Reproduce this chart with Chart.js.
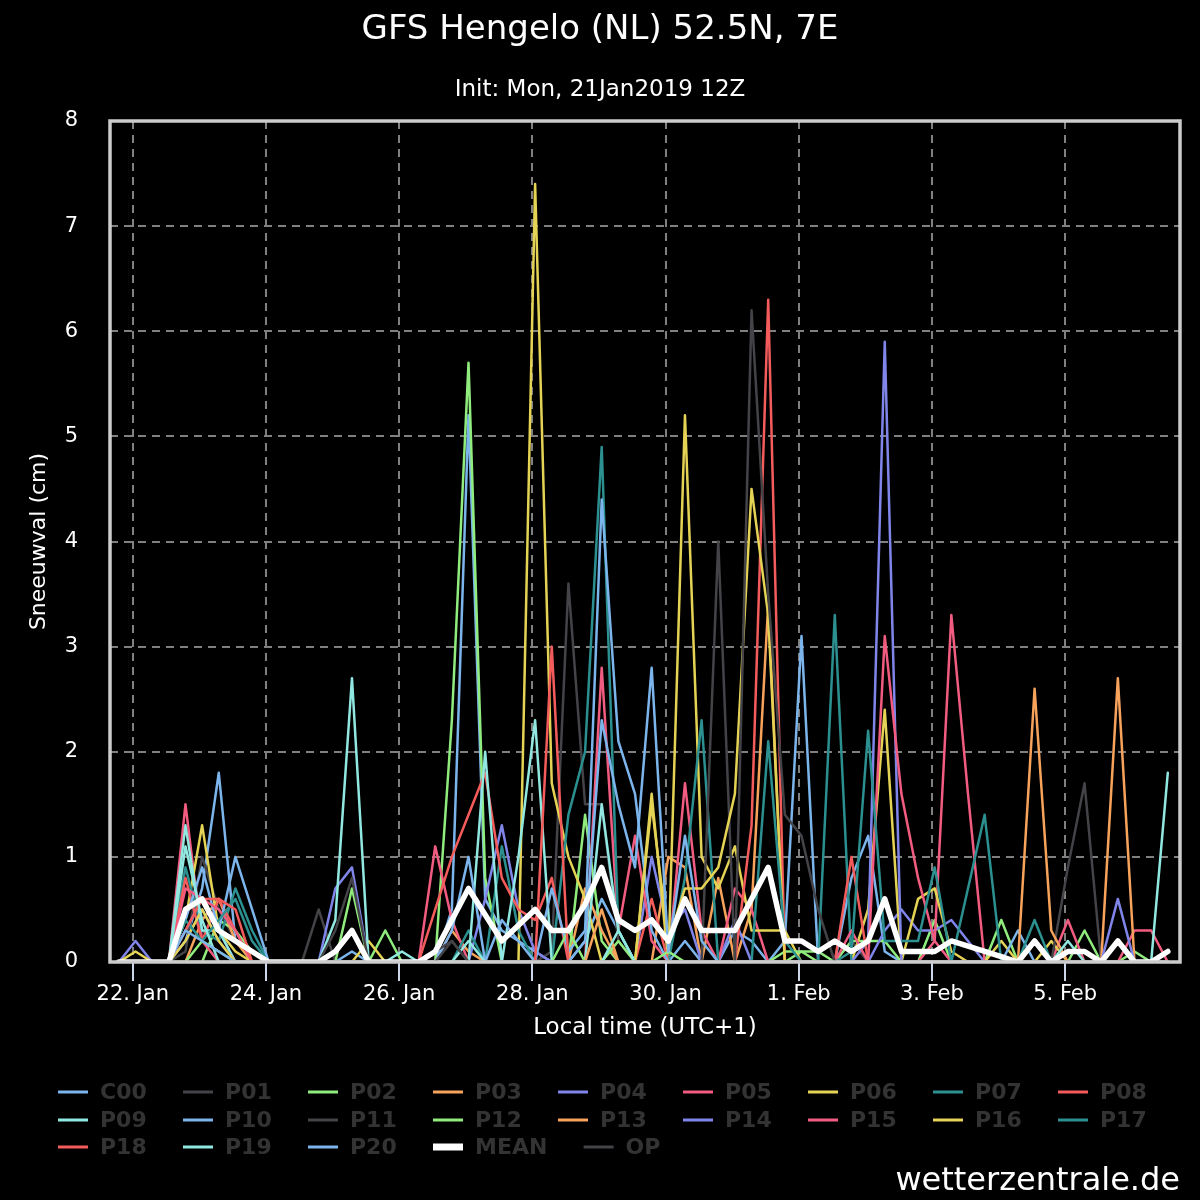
<!DOCTYPE html>
<html>
<head>
<meta charset="utf-8">
<title>GFS Hengelo (NL) 52.5N, 7E</title>
<script src="https://cdn.jsdelivr.net/npm/chart.js@4.4.1/dist/chart.umd.min.js"></script>
<style>
  html, body { margin: 0; padding: 0; background: #000; }
  canvas { display: block; }
</style>
</head>
<body>
<canvas id="chart" width="1200" height="1200"></canvas>
<script>
// 6-hourly steps, +6h .. +384h from 21 Jan 2019 12Z, as local hours after 22 Jan 00:00 (UTC+1)
let leadHours = [];
for (let i = 0; i < 64; i++) leadHours.push(-5 + 6 * i);

const tickHours = [0, 48, 96, 144, 192, 240, 288, 336];
const tickLabels = ["22. Jan", "24. Jan", "26. Jan", "28. Jan", "30. Jan", "1. Feb", "3. Feb", "5. Feb"];

// snowfall (cm) per member
const C00 = [0,0,0,0,0.2,0.7,1.8,0.2, 0.1,0,0,0,0,0,0.1,0, 0,0,0,0,0.5,5.2,0.6,0.3, 0.2,0.1,0,0,0.2,0.6,0.3,0,
             0,0,0.2,0,0,0.3,0.2,0, 0.2,3.1,0,0,0.8,1.2,0.1,0, 0,0,0,0,0,0,0,0, 0,0,0,0,0,0,0,0];
const P01 = [0,0,0,0,0.1,1.0,0.5,0.2, 0,0,0,0,0.5,0,0,0, 0,0,0,0,0,0,0,0, 0,0,0.1,3.6,1.5,1.5,0.2,0,
             0,0,0,0,0,0,0,0, 0,0,0,0,0.2,0,0,0, 0,0,0,0,0,0,0,0, 0,0,0,0,0,0,0,0];
const P02 = [0,0,0,0,0,0,0.4,0.3, 0.1,0,0,0,0,0,0.7,0, 0.3,0,0,0,2.3,5.7,0.8,0, 0,0,0,0,1.4,0.2,0,0,
             0,0,0,0,0,0,0,0, 0,0.1,0.1,0,0.2,0.2,0.2,0, 0,0.4,0,0,0,0.4,0,0, 0,0,0.3,0,0,0.1,0,0];
const P03 = [0,0,0,0,0,0.4,0.6,0.2, 0,0,0,0,0,0,0,0, 0,0,0,0,0.3,0.1,0,0, 0,0,0,0,0.7,0.3,0,0,
             0,1.0,0.9,0,0.8,0,0.5,3.4, 0,0,0,0,0,0,0,0, 0,0,0,0,0,0,0,0, 0,0,0,0,0,0,0,0];
const P04 = [0,0.2,0,0,0.3,0.6,0.3,0, 0,0,0,0,0,0.7,0.9,0, 0,0,0,0,0,0,0.6,1.3, 0.5,0.1,0,0,0,0,0,0,
             1.0,0.3,0.5,0,0,0.4,0,0, 0,0,0,0,0,0,0.3,0.5, 0.3,0.3,0.4,0.2,0,0,0,0, 0,0,0,0,0,0,0,0];
const P05 = [0,0,0,0,1.5,0.2,0,0, 0,0,0,0,0,0,0,0, 0,0,0,1.1,0.4,0,0,0, 0,0,0,0,0,2.8,0.3,1.2,
             0.2,0,1.7,0.3,0,0.7,0.5,0, 0,0,0,0,0,0,0,0, 0,0.2,3.3,1.6,0,0,0,0, 0,0.4,0,0,0,0.3,0.3,0];
const P06 = [0,0.1,0,0,0.4,1.3,0.3,0.1, 0,0,0,0,0,0,0,0.2, 0,0,0,0,0,0,0,0, 0,7.4,1.7,1.0,0.6,0,0,0,
             1.6,0,5.2,1.0,0.7,1.1,0.3,0.3, 0.3,0,0,0,0,0.5,2.4,0, 0.6,0.7,0.1,0,0,0.2,0,0, 0.2,0,0,0,0,0,0,0];
const P07 = [0,0,0,0,0.9,0.3,0.2,0.7, 0.3,0,0,0,0,0,0,0, 0,0,0,0,0,0.3,0,1.1, 0.3,0,0,1.4,2.0,4.9,0.3,0,
             0,0,0.8,2.3,0,0,0,0, 0,0,0,3.3,0,0,0,0, 0,0,0,0,0,0,0,0, 0,0,0,0,0,0,0,0];
const P08 = [0,0,0,0,0.8,0.2,0.6,0.3, 0,0,0,0,0,0,0,0, 0,0,0,0.5,1.0,1.4,1.8,0.8, 0.5,0.4,0.8,0,0,0,0,0,
             0.6,0,0,0,0,0,1.3,6.3, 0,0,0,0,1.0,0,0,0, 0,0,0,0,0,0,0,0, 0,0,0,0,0,0,0,0];
const P09 = [0,0,0,0,1.3,0.3,0.3,0, 0,0,0,0,0,0.4,2.7,0, 0,0.1,0,0,0,0,2.0,0, 1.0,2.3,0,0,0,1.5,0.3,0,
             0,0,0,0,0,0,0,0, 0,0,0,0,0,0,0,0, 0,0,0,0,0,0,0,0, 0,0,0,0,0,0,0,1.8];
const P10 = [0,0,0,0,0.4,0.9,0.3,1.0, 0.5,0,0,0,0,0,0,0, 0,0,0,0,0.3,1.0,0,0.4, 0.2,0,0.7,0.1,0.3,4.4,2.1,1.6,
             0.3,0,0,0,0,0,0,0, 0,0,0,0,0,0,0,0, 0,0,0,0,0,0,0.3,0, 0,0,0,0,0,0,0,0];
const P11 = [0,0,0,0,0,0,0,0, 0,0,0,0,0,0.3,0.8,0, 0,0,0,0.1,0.2,0,0,0, 0,0,0,0,0,0,0,0,
             0,0,0,0,4.0,0,0,0, 0,0,0,0,0,0,0,0, 0,0,0,0,0,0,0,0, 0,0.9,1.7,0,0,0,0,0];
const P12 = [0,0,0,0,0,0.2,0.1,0, 0,0,0,0,0,0,0,0, 0,0,0,0,0,0,0,0, 0,0,0,0.3,0,0,0.2,0,
             0,0.1,0,0,0,0,0,0, 0.1,0.1,0,0,0,0,0,0, 0,0,0,0,0,0,0,0, 0,0,0,0,0,0,0,0];
const P13 = [0,0,0,0,0,0,0,0, 0,0,0,0,0,0,0,0, 0,0,0,0,0,0,0,0, 0,0,0,0,0,0.5,0,0,
             0,0,0,0,0,0,0,0, 0,0,0,0,0,0,0,0, 0,0,0,0,0,0,0,2.6, 0.3,0,0,0,2.7,0,0,0];
const P14 = [0,0,0,0,0.2,0.5,0.2,0, 0,0,0,0,0,0,0,0, 0,0,0,0,0,0,0,0, 0,0,0,0,0,0,0,0,
             0,0,0,0,0,0,0,0, 0,0,0,0,0,0.2,5.9,0, 0,0,0,0,0,0,0,0, 0,0,0,0,0.6,0,0,0];
const P15 = [0,0,0,0,0.7,0.6,0.5,0.3, 0,0,0,0,0,0,0,0, 0,0,0,0,0,0,0,0, 0,0,0,0,0,0,0,0,
             0,0,0,0,0,0,0,0, 0,0,0,0,0.3,0,3.1,1.6, 0.8,0.2,0,0,0,0,0,0, 0,0,0,0,0,0,0,0];
const P16 = [0,0,0,0,0.2,0.5,0.2,0, 0,0,0,0,0,0,0,0, 0,0,0,0,0,0,0,0, 0,0,0,0,0,0,0,0,
             1.5,0.2,0.7,0.7,0.9,1.6,4.5,3.3, 0,0,0,0,0,0,0,0, 0,0,0,0,0,0,0,0, 0,0,0,0,0,0,0,0];
const P17 = [0,0,0,0,0.4,0.2,0.4,0.6, 0.2,0,0,0,0,0,0,0, 0,0,0,0,0,0,0,0, 0,0,0,0,0,0,0,0,
             0,0,0,0,0,0,0,2.1, 0.2,0,0,0,0.1,2.2,0.2,0.2, 0.2,0.9,0,0.7,1.4,0,0,0.4, 0,0,0,0,0,0,0,0];
const P18 = [0,0,0,0,0.3,0.6,0.6,0.5, 0,0,0,0,0,0,0,0, 0,0,0,0,0,0,0,0, 0,0,3.0,0,0,0,0,0,
             0,0,0,0,0,0,0,0, 0,0,0,0,0,0,0,0, 0,0,0,0,0,0,0,0, 0,0,0,0,0,0,0,0];
const P19 = [0,0,0,0,1.1,0.4,0,0, 0,0,0,0,0,0,0,0, 0,0,0,0,0,0.2,0,0, 0,0,0,0,0,0,0.3,0,
             0,0,0,0,0,0,0,0, 0,0,0,0,0,0,0,0, 0,0,0,0,0,0,0,0, 0,0.2,0,0,0,0,0,0];
const P20 = [0,0,0,0,0.3,0.2,0.1,0, 0,0,0,0,0,0,0,0, 0,0,0,0,0,0,0,0, 0,0,0,0,0.2,2.3,1.5,0.9,
             2.8,0.1,1.2,0.2,0,0,0,0, 0,0,0,0,0,0,0,0, 0,0,0,0,0,0,0,0, 0,0,0,0,0,0,0,0];
const MEAN = [0,0,0,0,0.5,0.6,0.3,0.2, 0.1,0,0,0,0,0.1,0.3,0, 0,0,0,0.1,0.4,0.7,0.45,0.2, 0.35,0.5,0.3,0.3,0.55,0.9,0.4,0.3,
              0.4,0.2,0.6,0.3,0.3,0.3,0.6,0.9, 0.2,0.2,0.1,0.2,0.1,0.2,0.6,0.1, 0.1,0.1,0.2,0.15,0.1,0.05,0,0.2, 0,0.1,0.1,0,0.2,0,0,0.1];
const OP = [0,0,0,0,0,0,0,0, 0,0,0,0,0,0,0,0, 0,0,0,0,0.2,0,0,0, 0,0,0,0,0,0,0,0,
            0,0,0,0,0,0,6.2,3.5, 1.4,1.2,0.5,0,0,0,0,0, 0,0,0,0,0,0,0,0, 0,0,0,0,0,0,0,0];

const memberNames = ["C00","P01","P02","P03","P04","P05","P06","P07","P08","P09","P10",
                     "P11","P12","P13","P14","P15","P16","P17","P18","P19","P20"];
const memberValues = [C00,P01,P02,P03,P04,P05,P06,P07,P08,P09,P10,
                      P11,P12,P13,P14,P15,P16,P17,P18,P19,P20];
const palette = ["#7cb5ec","#434348","#90ed7d","#f7a35c","#8085e9",
                 "#f15c80","#e4d354","#2b908f","#f45b5b","#91e8e1"];

const FONT = '"DejaVu Sans", sans-serif';

let toPoints = vals => vals.map((v, i) => ({x: leadHours[i], y: v}));

let datasets = memberNames.map((name, k) => ({
    label: name,
    data: toPoints(memberValues[k]),
    borderColor: palette[k % palette.length],
    borderWidth: 2.5,
    pointRadius: 0,
    order: -k
}));
datasets.push({label: "MEAN", data: toPoints(MEAN), borderColor: "#ffffff", borderWidth: 5.5, pointRadius: 0, order: -100, legendWidth: 7});
datasets.push({label: "OP", data: toPoints(OP), borderColor: "#434348", borderWidth: 2.5, pointRadius: 0, order: -22});

// frame round the plot, the legend grid and the credit line
const extras = {
    id: "extras",
    afterDraw(chart) {
        const ctx = chart.ctx, a = chart.chartArea;
        ctx.save();
        ctx.strokeStyle = "#cccccc";
        ctx.lineWidth = 3.5;
        ctx.strokeRect(a.left, a.top, a.right - a.left, a.bottom - a.top);

        ctx.font = "bold 22px " + FONT;
        ctx.textBaseline = "middle";
        ctx.textAlign = "left";
        const rowY = [1092, 1120, 1147];
        const gap = 125 - 42 - ctx.measureText("P01").width;
        let x = 58, row = 0;
        chart.data.datasets.forEach(ds => {
            const w = 42 + ctx.measureText(ds.label).width;
            if (x + w > 1180) { x = 58; row++; }
            ctx.strokeStyle = ds.borderColor;
            ctx.lineWidth = ds.legendWidth || 3;
            ctx.beginPath();
            ctx.moveTo(x, rowY[row]);
            ctx.lineTo(x + 30, rowY[row]);
            ctx.stroke();
            ctx.fillStyle = "#333333";
            ctx.fillText(ds.label, x + 42, rowY[row] + 1);
            x += w + gap;
        });

        ctx.font = "32px " + FONT;
        ctx.fillStyle = "#ffffff";
        ctx.textAlign = "right";
        ctx.textBaseline = "alphabetic";
        ctx.fillText("wetterzentrale.de", 1180, 1190);
        ctx.restore();
    }
};

new Chart(document.getElementById("chart"), {
    type: "line",
    data: {datasets: datasets},
    options: {
        responsive: false,
        devicePixelRatio: 1,
        animation: false,
        layout: {padding: {left: 20, right: 20, top: 0, bottom: 155}},
        elements: {line: {tension: 0, borderJoinStyle: "round", borderCapStyle: "round"}},
        plugins: {
            legend: {display: false},
            tooltip: {enabled: false},
            title: {
                display: true,
                text: "GFS Hengelo (NL) 52.5N, 7E",
                color: "#ffffff",
                font: {family: FONT, size: 34, weight: "normal"},
                padding: {top: 10, bottom: 18}
            },
            subtitle: {
                display: true,
                text: "Init: Mon, 21Jan2019 12Z",
                color: "#ffffff",
                font: {family: FONT, size: 23},
                padding: {top: 7, bottom: 17.6}
            }
        },
        scales: {
            x: {
                type: "linear",
                min: -8.2,
                max: 377.4,
                afterFit: s => { s.height = 83; },
                afterBuildTicks: s => { s.ticks = tickHours.map(v => ({value: v})); },
                ticks: {
                    color: "#ffffff",
                    font: {family: FONT, size: 21},
                    padding: 1,
                    maxRotation: 0,
                    autoSkip: false,
                    callback: (v, i) => tickLabels[i]
                },
                grid: {color: "#808080", lineWidth: 2, tickColor: "#ccd6eb", tickLength: 19, tickWidth: 2},
                border: {display: false, dash: [8, 6]},
                title: {
                    display: true,
                    text: "Local time (UTC+1)",
                    color: "#ffffff",
                    font: {family: FONT, size: 23},
                    padding: {top: 0, bottom: 3}
                }
            },
            y: {
                min: 0,
                max: 8,
                afterFit: s => { s.width = 90; },
                ticks: {stepSize: 1, color: "#ffffff", font: {family: FONT, size: 21}, padding: 32},
                grid: {color: "#808080", lineWidth: 2, drawTicks: false},
                border: {display: false, dash: [8, 6]},
                title: {
                    display: true,
                    text: "Sneeuwval (cm)",
                    color: "#ffffff",
                    font: {family: FONT, size: 22},
                    padding: {top: 6}
                }
            }
        }
    },
    plugins: [extras]
});
</script>
</body>
</html>
